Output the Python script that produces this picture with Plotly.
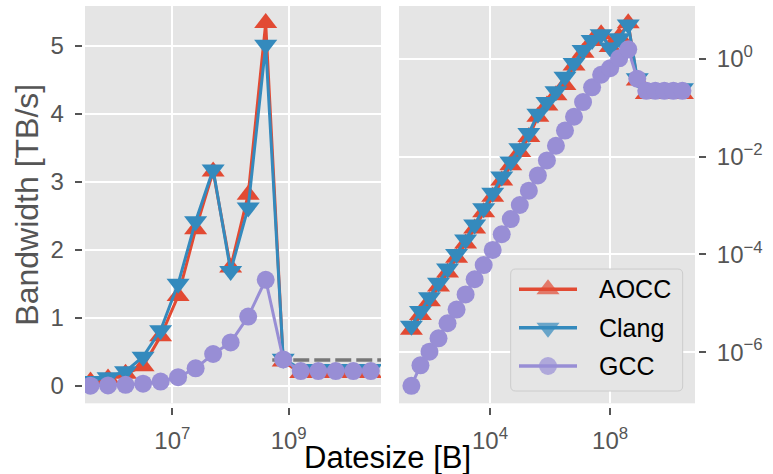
import plotly.graph_objects as go

# ---------------- data ----------------
sizes = [24, 48, 96, 192, 384, 768, 1536, 3072, 6144, 12288, 24576, 49152,
         98304, 196608, 393216, 786432, 1572864, 3145728, 6291456, 12582912,
         25165824, 50331648, 100663296, 201326592, 402653184, 805306368,
         1610612736, 3221225472, 6442450944, 12884901888, 25769803776]

aocc = [2.88e-6, 5.75e-6, 1.10e-5, 2.19e-5, 4.27e-5, 8.51e-5, 1.66e-4, 3.39e-4,
        7.24e-4, 1.51e-3, 3.24e-3, 6.61e-3, 1.23e-2, 2.51e-2,
        0.065, 0.11, 0.18, 0.29, 0.73, 1.32, 2.30, 3.15, 1.74, 2.81, 5.33, 0.36,
        0.19, 0.19, 0.19, 0.19, 0.19]

clang = [3.47e-6, 6.92e-6, 1.32e-5, 2.63e-5, 5.13e-5, 1.02e-4, 2.00e-4, 4.07e-4,
         8.70e-4, 1.82e-3, 3.89e-3, 7.94e-3, 1.48e-2, 3.02e-2,
         0.075, 0.13, 0.215, 0.43, 0.82, 1.50, 2.42, 3.18, 1.69, 2.62, 5.01, 0.40,
         0.25, 0.25, 0.25, 0.25, 0.25]

gcc = [2.04e-7, 5.37e-7, 1.02e-6, 1.91e-6, 3.89e-6, 7.41e-6, 1.51e-5, 3.09e-5,
       6.03e-5, 1.23e-4, 2.57e-4, 5.25e-4, 1.02e-3, 2.00e-3,
       0.0041, 0.0083, 0.0166, 0.034, 0.065, 0.13, 0.26, 0.47, 0.64, 1.02, 1.56, 0.39,
       0.22, 0.22, 0.22, 0.22, 0.22]

ref_x = [5.22e8, 3.9e10]
ref_y = [0.38, 0.38]

left_start = 14  # left panel shows sizes from 3*2^17 on

series_names = ["AOCC", "Clang", "GCC"]
series_vals = [aocc, clang, gcc]
colors = ["#E24A33", "#348ABD", "#988ED5"]
symbols = ["triangle-up", "triangle-down", "circle"]
msizes = [20, 20, 18]

left_xticks = [1e7, 1e9]
left_xtext = ["10<sup>7</sup>", "10<sup>9</sup>"]
left_yticks = [0, 1, 2, 3, 4, 5]
right_xticks = [1e4, 1e8]
right_xtext = ["10<sup>4</sup>", "10<sup>8</sup>"]
right_yticks = [1e-6, 1e-4, 1e-2, 1]
right_ytext = ["10<sup>\u22126</sup>", "10<sup>\u22124</sup>", "10<sup>\u22122</sup>", "10<sup>0</sup>"]

# ---------------- layout geometry (pixels) ----------------
FONT = "Liberation Sans, Arial, Helvetica, sans-serif"
W, H = 773, 474
lx0, lx1 = 85, 381
rx0, rx1 = 399, 695
yt, yb = 6, 403.3
# legend box
bx0, bx1, by0, by1 = 510.7, 682.7, 269, 391
leg_line = (519, 548, 577)          # line start, marker, line end
leg_rows = [289.3, 327.7, 366.0]
leg_text_x = 596.7


def px(x):
    return x / W


def py(y):
    return (H - y) / H


fig = go.Figure()

# reference dashed line (left panel)
fig.add_trace(go.Scatter(x=ref_x, y=ref_y, mode="lines",
                         line=dict(color="#777777", width=3.5, dash="16px,5px"),
                         xaxis="x", yaxis="y", showlegend=False, hoverinfo="skip"))

for i, (name, vals) in enumerate(zip(series_names, series_vals)):
    fig.add_trace(go.Scatter(
        x=sizes[left_start:], y=vals[left_start:], mode="lines+markers", name=name,
        line=dict(color=colors[i], width=3),
        marker=dict(symbol=symbols[i], size=msizes[i], color=colors[i], line=dict(width=0)),
        xaxis="x", yaxis="y", showlegend=False))

for i, (name, vals) in enumerate(zip(series_names, series_vals)):
    fig.add_trace(go.Scatter(
        x=sizes, y=vals, mode="lines+markers", name=name,
        line=dict(color=colors[i], width=3),
        marker=dict(symbol=symbols[i], size=msizes[i], color=colors[i], line=dict(width=0)),
        xaxis="x2", yaxis="y2", showlegend=False))

# legend samples drawn in a small helper subplot covering the legend box
bw, bh = bx1 - bx0, by1 - by0
lx = [(v - bx0) / bw for v in leg_line]
annotations = []
for i, name in enumerate(series_names):
    ry = (by1 - leg_rows[i]) / bh
    fig.add_trace(go.Scatter(
        x=lx, y=[ry] * 3, mode="lines+markers", name=name,
        line=dict(color=colors[i], width=3.5),
        marker=dict(symbol=symbols[i], size=[0, msizes[i], 0], color=colors[i], line=dict(width=0)),
        xaxis="x3", yaxis="y3", showlegend=False, cliponaxis=False, hoverinfo="skip"))
    annotations.append(dict(text=name, x=(leg_text_x - bx0) / bw, y=ry, xref="x3", yref="y3",
                            xanchor="left", yanchor="middle", showarrow=False,
                            font=dict(family=FONT, size=25, color="black")))

tickfont = dict(family=FONT, size=24, color="#555555")
common = dict(showgrid=True, gridcolor="white", gridwidth=1.7, zeroline=False,
              showline=False, ticks="outside", ticklen=7, tickwidth=1.5,
              tickcolor="#555555", tickfont=tickfont, anchor="free")

annotations += [
    dict(text="Datesize [B]", x=px(387.5), y=py(457.5), xref="paper", yref="paper",
         xanchor="center", yanchor="middle", showarrow=False,
         font=dict(family=FONT, size=31, color="black")),
    dict(text="Bandwidth [TB/s]", x=px(27), y=py(204.7), xref="paper", yref="paper",
         xanchor="center", yanchor="middle", showarrow=False, textangle=-90,
         font=dict(family=FONT, size=32, color="#555555")),
]

# rounded legend frame
r = 5
rx_, ry_ = r / W, r / H
X0, X1, Y0, Y1 = px(bx0), px(bx1), py(by1), py(by0)
frame = (f"M{X0 + rx_},{Y0} L{X1 - rx_},{Y0} Q{X1},{Y0} {X1},{Y0 + ry_} "
         f"L{X1},{Y1 - ry_} Q{X1},{Y1} {X1 - rx_},{Y1} L{X0 + rx_},{Y1} "
         f"Q{X0},{Y1} {X0},{Y1 - ry_} L{X0},{Y0 + ry_} Q{X0},{Y0} {X0 + rx_},{Y0} Z")

fig.update_layout(
    width=W, height=H, autosize=False,
    margin=dict(l=0, r=0, t=0, b=0),
    paper_bgcolor="white", plot_bgcolor="#E5E5E5",
    font=dict(family=FONT),
    showlegend=False,
    xaxis=dict(type="log", domain=[px(lx0), px(lx1)], range=[5.50, 10.586],
               tickmode="array", tickvals=left_xticks, ticktext=left_xtext,
               position=(H - yb - 3.3) / H, ticklabelstandoff=6, **common),
    yaxis=dict(domain=[py(yb), py(yt)], range=[-0.254, 5.58], tickmode="array",
               tickvals=left_yticks, position=px(lx0 - 3.3), ticklabelstandoff=6, **common),
    xaxis2=dict(type="log", domain=[px(rx0), px(rx1)], range=[0.967, 10.83],
                tickmode="array", tickvals=right_xticks, ticktext=right_xtext,
                position=(H - yb - 3.3) / H, ticklabelstandoff=6, **common),
    yaxis2=dict(type="log", domain=[py(yb), py(yt)], range=[-7.047, 1.078], side="right",
                tickmode="array", tickvals=right_yticks, ticktext=right_ytext,
                position=px(rx1 + 3), ticklabelstandoff=6, **common),
    xaxis3=dict(domain=[px(bx0), px(bx1)], range=[0, 1], visible=False, anchor="y3",
                showgrid=False, zeroline=False, fixedrange=True),
    yaxis3=dict(domain=[py(by1), py(by0)], range=[0, 1], visible=False, anchor="x3",
                showgrid=False, zeroline=False, fixedrange=True),
    shapes=[dict(type="path", path=frame, xref="paper", yref="paper",
                 line=dict(color="#CCCCCC", width=1), fillcolor="rgba(0,0,0,0)", layer="above")],
    annotations=annotations,
)

fig.write_html("out.html", config={"displayModeBar": False},
               post_script="document.body.style.margin='0px';")
